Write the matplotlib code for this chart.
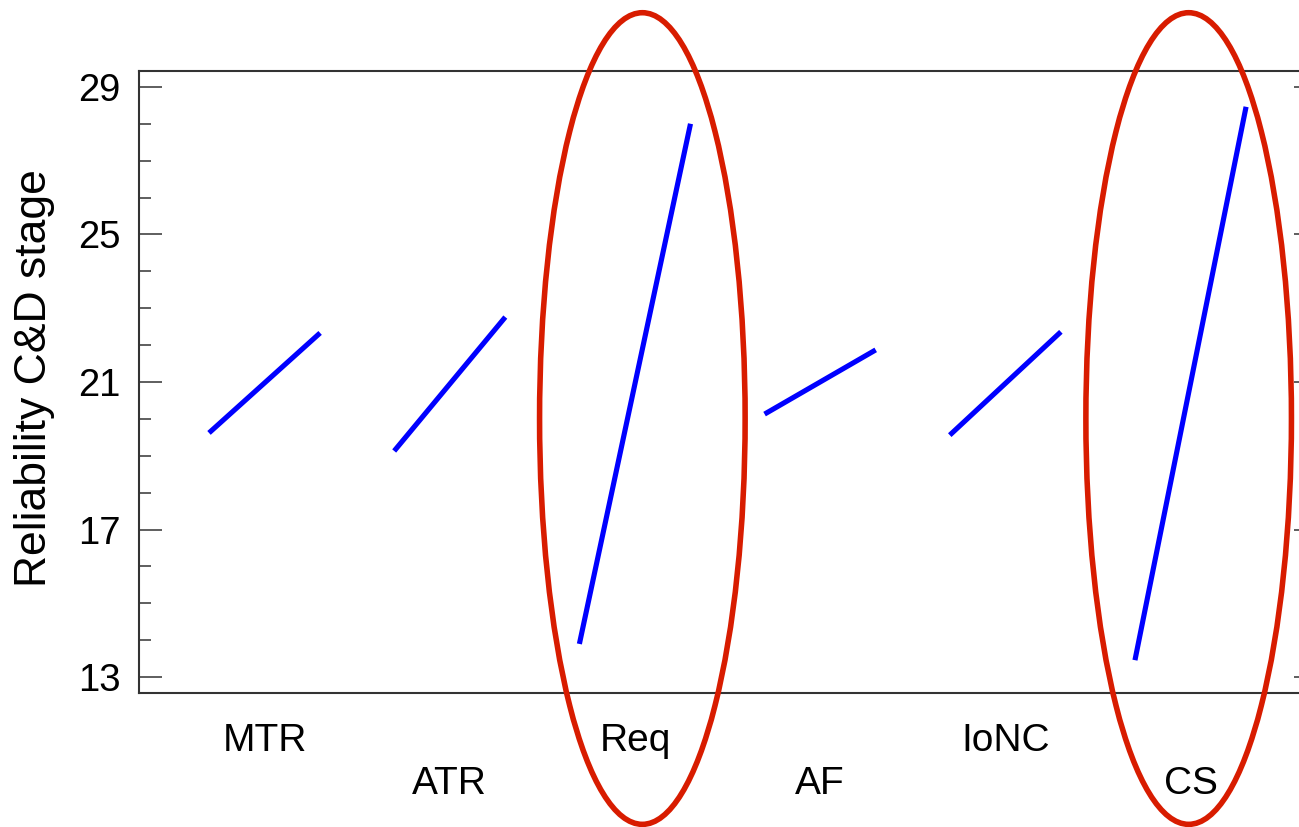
import matplotlib
matplotlib.use('Agg')
import matplotlib.pyplot as plt
import matplotlib.transforms as mtransforms
from matplotlib.patches import Ellipse
from matplotlib.ticker import MultipleLocator

plt.rcParams['font.family'] = ['Liberation Sans', 'DejaVu Sans']

# Main effects data (mean response at low / high level of each factor)
factors = ['MTR', 'ATR', 'Req', 'AF', 'IoNC', 'CS']
low_means = [19.62, 19.13, 13.90, 20.13, 19.56, 13.46]
high_means = [22.33, 22.76, 28.00, 21.87, 22.36, 28.46]
highlighted = ['Req', 'CS']
y_ticks = [13, 17, 21, 25, 29]

fig = plt.figure(figsize=(12.99, 8.27), dpi=100)
ax = fig.add_axes([139 / 1299, 1 - 693 / 827, 1178 / 1299, 622 / 827])

seg = 0.6
for i, name in enumerate(factors):
    ax.plot([i, i + seg], [low_means[i], high_means[i]], color='#0000ff',
            linewidth=3.7, solid_capstyle='butt')

# factor labels, staggered on two rows
trans = mtransforms.blended_transform_factory(ax.transData, fig.transFigure)
for i, name in enumerate(factors):
    y = 1 - 751 / 827 if i % 2 == 0 else 1 - 794 / 827
    ax.text(i + seg / 2, y, name, transform=trans, ha='center', va='baseline',
            fontsize=28, color='black')

# red ellipses around the strongest effects
ell_dx = [0.34, 0.29]
for name, dx in zip(highlighted, ell_dx):
    i = factors.index(name)
    e = Ellipse((i + dx, 20.01), width=1.11, height=22.0, fill=False,
                edgecolor='#d81c00', linewidth=4.0, clip_on=False, zorder=5)
    ax.add_patch(e)

ax.set_xlim(-0.378, 5.983)
ax.set_ylim(12.57, 29.43)
ax.set_xticks([])
ax.set_yticks(y_ticks)
ax.yaxis.set_minor_locator(MultipleLocator(1))
ax.tick_params(axis='y', which='major', direction='in', length=16.6, width=1.1,
               right=True, labelsize=27.5, pad=13, color='#333333')
ax.tick_params(axis='y', which='minor', direction='in', length=8.6, width=1.1,
               right=True, color='#333333')
for s in ax.spines.values():
    s.set_color('#333333')
    s.set_linewidth(1.5)

fig.text(35 / 1299, 1 - 378 / 827, 'Reliability C&D stage', rotation=90,
         ha='center', va='center', fontsize=32)

plt.savefig('out.png', dpi=100)
plt.close()
